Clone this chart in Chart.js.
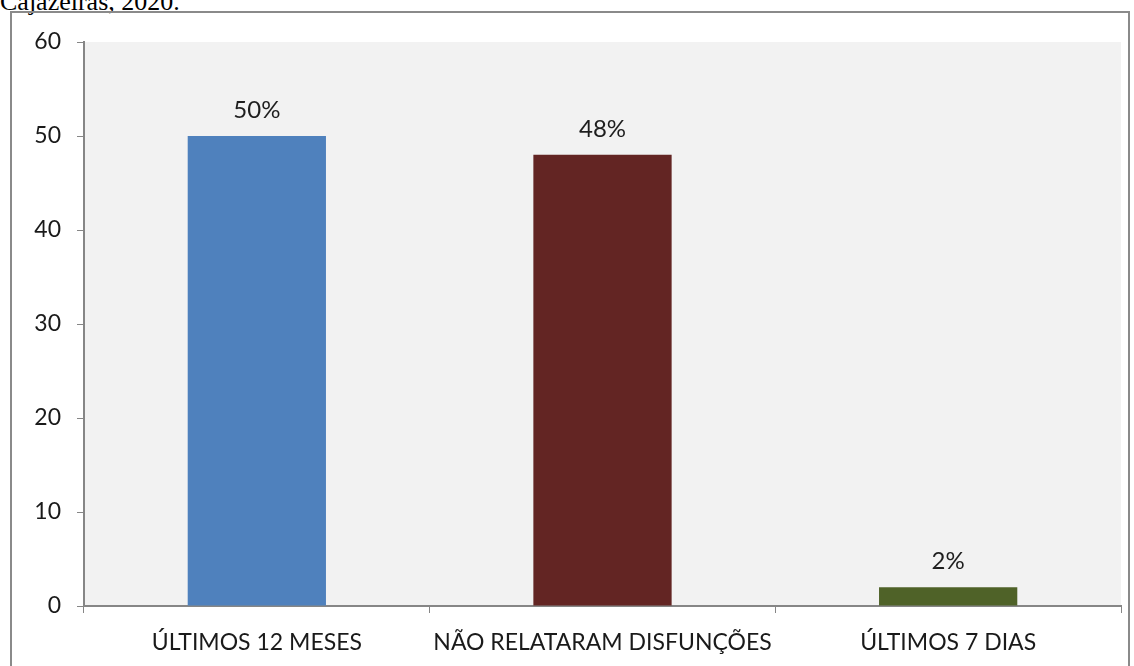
<!DOCTYPE html>
<html>
<head>
<meta charset="utf-8">
<script src="https://cdn.jsdelivr.net/npm/chart.js@4"></script>
<style>
  html, body { margin: 0; padding: 0; background: #ffffff; width: 1134px; height: 666px; overflow: hidden; }
  #caption { position: absolute; left: 0px; top: -13px; font-family: "Liberation Serif", "DejaVu Serif", serif; font-size: 26px; color: #000; white-space: nowrap; }
  #frame { position: absolute; left: 10px; top: 11px; width: 1120px; height: 700px; border: 2px solid #8a8a8a; box-sizing: border-box; }
  #wrap { position: absolute; left: 0; top: 0; width: 1134px; height: 666px; }
</style>
</head>
<body>
<div id="caption">Cajazeiras, 2020.</div>
<div id="frame"></div>
<div id="wrap"><canvas id="c" width="1134" height="666"></canvas></div>
<script>
const categories = ["ÚLTIMOS 12 MESES", "NÃO RELATARAM DISFUNÇÕES", "ÚLTIMOS 7 DIAS"];
const values = [50, 48, 2];
const valueLabels = ["50%", "48%", "2%"];
const barColors = ["#4f81bd", "#632523", "#4f6228"];
const yTicks = [0, 10, 20, 30, 40, 50, 60];

const FONT = "Lato, 'Open Sans', sans-serif";

const bgPlugin = {
  id: 'bg',
  beforeDraw(chart) {
    const a = chart.chartArea, ctx = chart.ctx;
    ctx.save();
    ctx.fillStyle = '#f2f2f2';
    ctx.fillRect(a.left, a.top, a.right - a.left, a.bottom - a.top);
    ctx.restore();
  }
};
const labelPlugin = {
  id: 'vlabels',
  afterDatasetsDraw(chart) {
    const ctx = chart.ctx;
    const meta = chart.getDatasetMeta(0);
    ctx.save();
    ctx.font = "24px " + FONT;
    ctx.fillStyle = '#1e1e1e';
    ctx.textAlign = 'center';
    ctx.textBaseline = 'alphabetic';
    meta.data.forEach((bar, i) => {
      ctx.fillText(valueLabels[i], bar.x, bar.y - 18);
    });
    ctx.restore();
  }
};

new Chart(document.getElementById('c'), {
  type: 'bar',
  data: {
    labels: categories,
    datasets: [{
      data: values,
      backgroundColor: barColors,
      borderWidth: 0,
      categoryPercentage: 1.0,
      barPercentage: 0.4
    }]
  },
  options: {
    responsive: false,
    animation: false,
    devicePixelRatio: 1,
    layout: { padding: { left: 0, top: 42, right: 13, bottom: 0 } },
    plugins: { legend: { display: false }, tooltip: { enabled: false }, title: { display: false } },
    scales: {
      x: {
        afterFit(s) { s.height = 60; },
        grid: { display: true, drawOnChartArea: false, drawTicks: true, tickLength: 7, color: '#868686', offset: true },
        border: { display: true, color: '#868686', width: 2 },
        ticks: { color: '#1a1a1a', font: { family: FONT, size: 23 }, padding: 16, maxRotation: 0, autoSkip: false }
      },
      y: {
        min: 0, max: 60,
        afterFit(s) { s.width = 84; },
        afterBuildTicks(s) { s.ticks = yTicks.map(v => ({ value: v })); },
        grid: { display: true, drawOnChartArea: false, drawTicks: true, tickLength: 7, color: '#868686' },
        border: { display: true, color: '#868686', width: 2 },
        ticks: { color: '#1a1a1a', font: { family: FONT, size: 23 }, padding: 16 }
      }
    }
  },
  plugins: [bgPlugin, labelPlugin]
});
</script>
</body>
</html>
